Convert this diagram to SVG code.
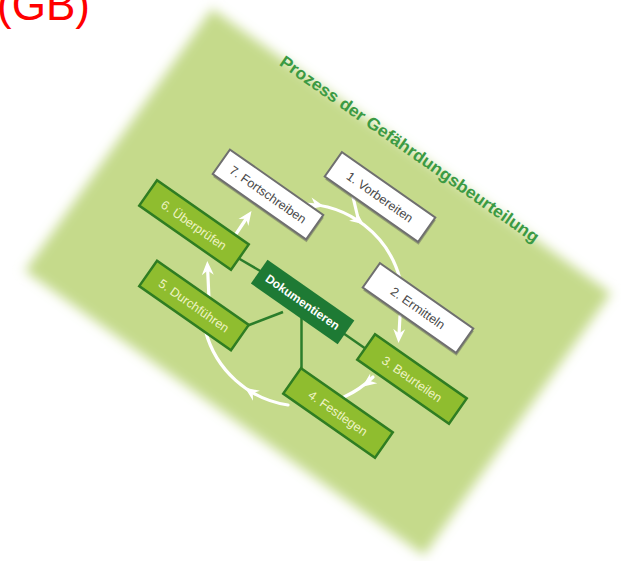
<svg xmlns="http://www.w3.org/2000/svg" width="621" height="561" viewBox="0 0 621 561">
<defs>
<style>
.gb{font-family:"Liberation Sans",Arial,sans-serif;font-size:44px;fill:#ff0000}
.title{font-family:"Liberation Sans",Arial,sans-serif;font-weight:bold;font-size:17px;fill:#3b9a43}
.lbl{font-family:"Liberation Sans",Arial,sans-serif;font-size:12.5px;text-anchor:middle}
.wbox{fill:#ffffff;stroke:#6f6f6f;stroke-width:2}
.shadow{fill:#555555;opacity:0.45}
.wtxt{fill:#4a4a4a}
.gbox{fill:#8fbd2f;stroke:#2f7d22;stroke-width:2.5}
.gtxt{fill:#eef3c4}
.dbox{fill:#1e7a34}
.dtxt{fill:#ffffff;font-weight:bold;font-size:12px}
.conn{stroke:#2b7d2b;stroke-width:2.5;fill:none}
.flow{stroke:#ffffff;stroke-width:3.2;fill:none;stroke-linecap:round}
</style>
<filter id="blur" x="-10%" y="-10%" width="120%" height="120%"><feGaussianBlur stdDeviation="6"/></filter>
<path id="ah" d="M0,0 L-14,-6 L-9.5,0 L-14,6 Z" fill="#ffffff"/>
</defs>
<rect width="621" height="561" fill="#ffffff"/>
<text class="gb" x="-3" y="20">(GB)</text>
<g id="card" transform="translate(318,282) rotate(35.5)">
<rect x="-245" y="-161" width="490" height="322" fill="#c5da8b" filter="url(#blur)"/>
</g>
<text class="title" transform="translate(278.5,64.5) rotate(35)" textLength="312" lengthAdjust="spacingAndGlyphs">Prozess der Gefährdungsbeurteilung</text>
<g id="flows">
<path class="flow" d="M303,204 A101,101 0 0 1 400,279"/>
<path class="flow" d="M353,197 L358,218"/>
<use href="#ah" transform="translate(324,206.2) rotate(12)"/>
<use href="#ah" transform="translate(363.8,224.3) rotate(37)"/>
<path class="flow" d="M400,316 L399,334"/>
<use href="#ah" transform="translate(398.5,343) rotate(93)"/>
<path class="flow" d="M373,377 A101,101 0 0 1 344,397"/>
<use href="#ah" transform="translate(362.4,386.7) rotate(144)"/>
<path class="flow" d="M288,405 A101,101 0 0 1 205.5,331"/>
<use href="#ah" transform="translate(245,387.7) rotate(215)"/>
<path class="flow" d="M209,299 L207.5,266"/>
<use href="#ah" transform="translate(207.3,261) rotate(-92)"/>
<path class="flow" d="M236,234 L248,216"/>
<use href="#ah" transform="translate(251.5,211) rotate(-55)"/>
</g>
<g id="connectors">
<path class="conn" d="M238,258 L262,272"/>
<path class="conn" d="M244,327 L283,312"/>
<path class="conn" d="M301.5,318 L301.5,373"/>
<path class="conn" d="M343,333 L366,349"/>
</g>
<g id="n1" transform="translate(380,197) rotate(35)">
<rect class="shadow" x="-55" y="-13" width="114" height="30"/>
<rect class="wbox" x="-57" y="-15" width="114" height="30"/>
<text class="lbl wtxt" y="4.5">1. Vorbereiten</text>
</g>
<g id="n2" transform="translate(418,308) rotate(35)">
<rect class="shadow" x="-55" y="-13" width="114" height="30"/>
<rect class="wbox" x="-57" y="-15" width="114" height="30"/>
<text class="lbl wtxt" y="4.5">2. Ermitteln</text>
</g>
<g id="n3" transform="translate(412,379) rotate(35)">
<rect class="gbox" x="-56" y="-15.5" width="112" height="31"/>
<text class="lbl gtxt" y="4.5">3. Beurteilen</text>
</g>
<g id="n4" transform="translate(338,413) rotate(35)">
<rect class="gbox" x="-56" y="-15.5" width="112" height="31"/>
<text class="lbl gtxt" y="4.5">4. Festlegen</text>
</g>
<g id="n5" transform="translate(194,305.5) rotate(35)">
<rect class="gbox" x="-56" y="-15.5" width="112" height="31"/>
<text class="lbl gtxt" y="4.5">5. Durchführen</text>
</g>
<g id="n6" transform="translate(194,225) rotate(35)">
<rect class="gbox" x="-56" y="-15.5" width="112" height="31"/>
<text class="lbl gtxt" y="4.5">6. Überprüfen</text>
</g>
<g id="n7" transform="translate(268,194.5) rotate(35)">
<rect class="shadow" x="-55" y="-13" width="114" height="30"/>
<rect class="wbox" x="-57" y="-15" width="114" height="30"/>
<text class="lbl wtxt" y="4.5">7. Fortschreiben</text>
</g>
<g id="doc" transform="translate(302.6,302) rotate(35)">
<rect class="dbox" x="-53" y="-14.5" width="106" height="29"/>
<text class="lbl dtxt" y="4.2">Dokumentieren</text>
</g>
</svg>
